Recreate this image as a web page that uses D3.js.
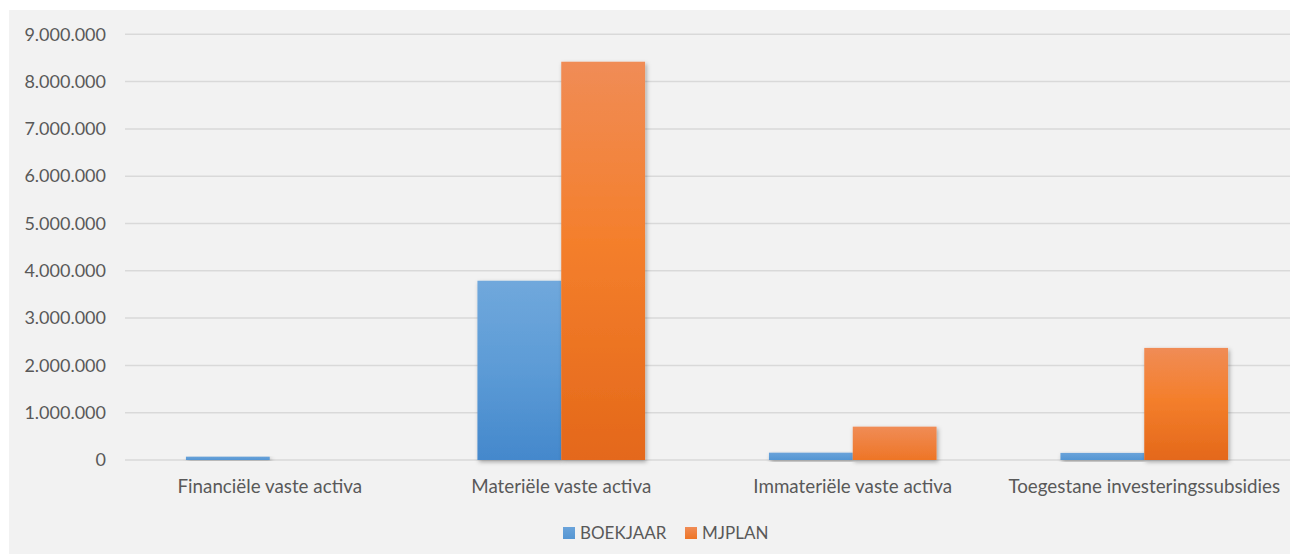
<!DOCTYPE html>
<html><head><meta charset="utf-8">
<script src="https://cdn.jsdelivr.net/npm/d3@7/dist/d3.min.js"></script>
<style>
html,body{margin:0;padding:0;background:#fff;}
svg{display:block;}
text{font-family:Lato,"Open Sans",sans-serif;fill:#595959;}
</style></head>
<body>
<svg id="chart" width="1290" height="555"></svg>
<script>
const categories = ["Financiële vaste activa","Materiële vaste activa","Immateriële vaste activa","Toegestane investeringssubsidies"];
const seriesNames = ["BOEKJAAR","MJPLAN"];
const boekjaar = [70000, 3790000, 155000, 150000];
const mjplan = [0, 8420000, 705000, 2370000];
const yTicks = [0,1000000,2000000,3000000,4000000,5000000,6000000,7000000,8000000,9000000];

const svg = d3.select("#chart");
const W = 1290, H = 555;
const panel = {x:9, y:10, w:W-9, h:544};
const m = {left:124, right:1290, top:34.3, bottom:460};

const defs = svg.append("defs");
const gBlue = defs.append("linearGradient").attr("id","gBlue").attr("x1",0).attr("y1",0).attr("x2",0).attr("y2",1);
gBlue.append("stop").attr("offset","0%").attr("stop-color","#70a8dc");
gBlue.append("stop").attr("offset","50%").attr("stop-color","#5c9bd6");
gBlue.append("stop").attr("offset","100%").attr("stop-color","#4488cc");
const gOr = defs.append("linearGradient").attr("id","gOr").attr("x1",0).attr("y1",0).attr("x2",0).attr("y2",1);
gOr.append("stop").attr("offset","0%").attr("stop-color","#f08c56");
gOr.append("stop").attr("offset","45%").attr("stop-color","#f47f2c");
gOr.append("stop").attr("offset","100%").attr("stop-color","#e4681a");
const gBlueL = defs.append("linearGradient").attr("id","gBlueL").attr("x1",0).attr("y1",0).attr("x2",0).attr("y2",1);
gBlueL.append("stop").attr("offset","0%").attr("stop-color","#6aa3da");
gBlueL.append("stop").attr("offset","100%").attr("stop-color","#5596d3");
const gOrL = defs.append("linearGradient").attr("id","gOrL").attr("x1",0).attr("y1",0).attr("x2",0).attr("y2",1);
gOrL.append("stop").attr("offset","0%").attr("stop-color","#f08c56");
gOrL.append("stop").attr("offset","100%").attr("stop-color","#ee7526");
const flt = defs.append("filter").attr("id","sh").attr("x","-20%").attr("y","-20%").attr("width","140%").attr("height","140%");
flt.append("feDropShadow").attr("dx",1.5).attr("dy",2).attr("stdDeviation",2).attr("flood-color","#000").attr("flood-opacity",0.32);

svg.append("rect").attr("x",panel.x).attr("y",panel.y).attr("width",panel.w).attr("height",panel.h).attr("fill","#f2f2f2");

const x0 = d3.scaleBand().domain(categories).range([m.left, m.right]).paddingInner(0.425).paddingOuter(0.2125);
const x1 = d3.scaleBand().domain(seriesNames).range([0, x0.bandwidth()]);
const y = d3.scaleLinear().domain([0, 9000000]).range([m.bottom, m.top]);

const fmt = v => d3.format(",")(v).replace(/,/g, ".");

// grid
svg.append("g").selectAll("line").data(yTicks).join("line")
  .attr("x1", 125).attr("x2", W)
  .attr("y1", d => y(d)).attr("y2", d => y(d))
  .attr("stroke", "#d9d9d9").attr("stroke-width", 1.5);

// y axis
const yAxis = d3.axisLeft(y).tickValues(yTicks).tickFormat(fmt).tickSize(0).tickPadding(0);
const ga = svg.append("g").attr("transform", `translate(106,0)`).call(yAxis);
ga.select(".domain").remove();
ga.selectAll("text").style("font-size","18px").attr("fill","#595959").attr("font-family","Lato");

// bars
const data = categories.map((c,i)=>({cat:c, vals:[{s:"BOEKJAAR",v:boekjaar[i]},{s:"MJPLAN",v:mjplan[i]}]}));
const bars = svg.append("g").selectAll("g").data(data).join("g")
  .attr("transform", d => `translate(${x0(d.cat)},0)`);
bars.selectAll("rect").data(d => d.vals.filter(e => e.v > 0)).join("rect")
  .attr("x", d => x1(d.s)).attr("width", x1.bandwidth())
  .attr("y", d => y(d.v)).attr("height", d => y(0) - y(d.v))
  .attr("fill", d => {
    const big = (y(0)-y(d.v)) > 60;
    if (d.s === "BOEKJAAR") return big ? "url(#gBlue)" : "url(#gBlueL)";
    return big ? "url(#gOr)" : "url(#gOrL)";
  })
  .attr("filter","url(#sh)");

// x axis labels
const xAxis = d3.axisBottom(x0).tickSize(0).tickPadding(0);
const gx = svg.append("g").attr("transform", `translate(0,${m.bottom + 20})`).call(xAxis);
gx.select(".domain").remove();
gx.selectAll("text").style("font-size","18.8px").attr("fill","#595959").attr("font-family","Lato");

// legend
const legend = svg.append("g");
const items = [{s:"BOEKJAAR", fill:"url(#gBlueL)", x:563}, {s:"MJPLAN", fill:"url(#gOrL)", x:685}];
const li = legend.selectAll("g").data(items).join("g").attr("transform", d => `translate(${d.x},527)`);
li.append("rect").attr("width",12).attr("height",12).attr("fill", d => d.fill);
li.append("text").attr("x",17).attr("y",6).attr("dy","0.35em").style("font-size","17px").text(d => d.s);
</script>
</body></html>
